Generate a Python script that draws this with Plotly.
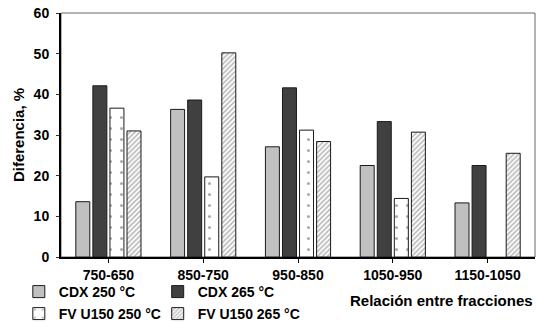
import plotly.graph_objects as go

categories = ["750-650", "850-750", "950-850", "1050-950", "1150-1050"]
cdx_250 = [13.6, 36.3, 27.1, 22.5, 13.3]
cdx_265 = [42.1, 38.6, 41.6, 33.3, 22.5]
fv_250 = [36.6, 19.7, 31.2, 14.4, None]
fv_265 = [31.0, 50.2, 28.4, 30.7, 25.5]

FONT = "Liberation Sans, Arial, sans-serif"
OUTLINE = dict(color="#1a1a1a", width=1)
LEG_FONT = dict(family=FONT, size=14, color="black", weight="bold")

fig = go.Figure()
fig.add_trace(go.Bar(name="CDX 250 °C", x=categories, y=cdx_250, legend="legend",
                     marker=dict(color="#c0c0c0", line=OUTLINE)))
fig.add_trace(go.Bar(name="CDX 265 °C", x=categories, y=cdx_265, legend="legend2",
                     marker=dict(color="#404040", line=OUTLINE)))
fig.add_trace(go.Bar(name="FV U150 250 °C", x=categories, y=fv_250, legend="legend3",
                     marker=dict(color="white", line=OUTLINE,
                                 pattern=dict(shape=".", fgcolor="#555555", bgcolor="white",
                                              size=11, solidity=0.06))))
fig.add_trace(go.Bar(name="FV U150 265 °C", x=categories, y=fv_265, legend="legend4",
                     marker=dict(color="white", line=OUTLINE,
                                 pattern=dict(shape="/", fgcolor="#5a5a5a", bgcolor="white",
                                              size=3.5, solidity=0.4))))


def legend_box(x, y):
    # one legend entry per box, laid out as a 2x2 grid under the x axis
    return dict(orientation="h", x=x, xanchor="left", yref="container", y=y,
                yanchor="middle", font=LEG_FONT, itemwidth=30,
                bgcolor="rgba(0,0,0,0)", borderwidth=0)


col1, col2 = -0.089, 0.204
row1, row2 = 1 - 292 / 323, 1 - 314 / 323

fig.update_layout(
    width=538, height=323,
    margin=dict(l=61, r=3, t=13, b=66, autoexpand=False),
    paper_bgcolor="white", plot_bgcolor="white",
    barmode="group", bargap=0.28, bargroupgap=0.18,
    font=dict(family=FONT, size=14, color="black"),
    showlegend=True,
    legend=legend_box(col1, row1),
    legend2=legend_box(col2, row1),
    legend3=legend_box(col1, row2),
    legend4=legend_box(col2, row2),
    shapes=[dict(type="rect", xref="paper", yref="paper", x0=0, x1=1, y0=0, y1=1,
                 line=dict(color="#666666", width=1), layer="below")],
    annotations=[
        dict(text="<b>Relación entre fracciones</b>", xref="paper", yref="paper",
             x=1.0, y=-0.135, xanchor="right", yanchor="top", showarrow=False,
             font=dict(family=FONT, size=15, color="black")),
    ],
)

fig.update_xaxes(
    showline=True, linecolor="black", linewidth=2,
    ticks="outside", ticklen=4, tickcolor="black", tickwidth=1,
    tickfont=dict(family=FONT, size=14, color="black", weight="bold"),
    showgrid=False,
)
fig.update_yaxes(
    range=[0, 60], dtick=10,
    showline=True, linecolor="black", linewidth=2,
    ticks="outside", ticklen=3, tickcolor="#333333", tickwidth=1,
    ticklabelstandoff=4,
    tickfont=dict(family=FONT, size=14, color="black", weight="bold"),
    showgrid=False, zeroline=False,
    title=dict(text="<b>Diferencia, %</b>", standoff=5,
               font=dict(family=FONT, size=15, color="black")),
)

fig.write_html("out.html")
